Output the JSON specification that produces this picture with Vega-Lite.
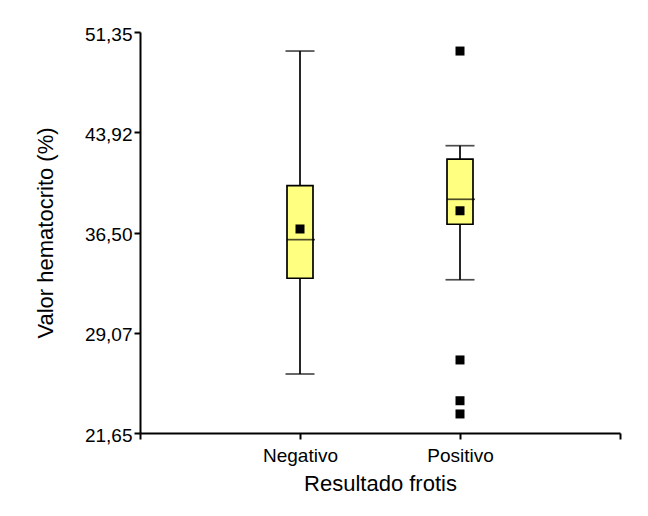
{
  "$schema": "https://vega.github.io/schema/vega-lite/v6.json",
  "width": 480,
  "height": 401,
  "autosize": {"type": "none"},
  "padding": {"left": 140, "top": 32, "right": 28, "bottom": 83},
  "background": "white",
  "datasets": {
    "box": [
      {"grupo": "Negativo", "min": 26.02, "q1": 33.11, "mediana": 35.97, "q3": 39.97, "max": 49.94, "media": 36.76},
      {"grupo": "Positivo", "min": 33.0, "q1": 37.11, "mediana": 38.96, "q3": 41.94, "max": 42.93, "media": 38.11}
    ],
    "atipicos": [
      {"grupo": "Positivo", "valor": 49.94},
      {"grupo": "Positivo", "valor": 27.06},
      {"grupo": "Positivo", "valor": 24.04},
      {"grupo": "Positivo", "valor": 23.06}
    ]
  },
  "encoding": {
    "x": {
      "field": "grupo",
      "type": "nominal",
      "scale": {"type": "point", "domain": ["_a", "Negativo", "Positivo", "_b"], "padding": 0},
      "axis": {
        "title": "Resultado frotis",
        "labelAngle": 0,
        "labelExpr": "indexof(['Negativo','Positivo'], datum.value) >= 0 ? datum.value : ''",
        "labelPadding": 7,
        "titlePadding": 8
      }
    }
  },
  "layer": [
    {
      "data": {"name": "box"},
      "mark": {"type": "rule", "color": "black", "strokeWidth": 1.7},
      "encoding": {
        "y": {
          "field": "min",
          "type": "quantitative",
          "scale": {"domain": [21.65, 51.35], "nice": false, "zero": false},
          "axis": {
            "title": "Valor hematocrito (%)",
            "values": [21.65, 29.07, 36.5, 43.92, 51.35],
            "labelExpr": "replace(format(datum.value, '.2f'), '.', ',')",
            "labelPadding": 2,
            "labelOffset": 2,
            "titlePadding": 27
          }
        },
        "y2": {"field": "max"}
      }
    },
    {
      "data": {"name": "box"},
      "mark": {"type": "tick", "color": "black", "size": 29, "thickness": 1.7},
      "encoding": {"y": {"field": "min", "type": "quantitative"}}
    },
    {
      "data": {"name": "box"},
      "mark": {"type": "tick", "color": "black", "size": 29, "thickness": 1.7},
      "encoding": {"y": {"field": "max", "type": "quantitative"}}
    },
    {
      "data": {"name": "box"},
      "mark": {"type": "bar", "size": 26, "fill": "#FFFF80", "stroke": "black", "strokeWidth": 1.7},
      "encoding": {
        "y": {"field": "q1", "type": "quantitative"},
        "y2": {"field": "q3"}
      }
    },
    {
      "data": {"name": "box"},
      "mark": {"type": "tick", "color": "black", "size": 28, "thickness": 1.7, "xOffset": 1},
      "encoding": {"y": {"field": "mediana", "type": "quantitative"}}
    },
    {
      "data": {"name": "box"},
      "mark": {"type": "square", "color": "black", "filled": true, "size": 81, "opacity": 1},
      "encoding": {"y": {"field": "media", "type": "quantitative"}}
    },
    {
      "data": {"name": "atipicos"},
      "mark": {"type": "square", "color": "black", "filled": true, "size": 81, "opacity": 1},
      "encoding": {"y": {"field": "valor", "type": "quantitative"}}
    }
  ],
  "config": {
    "view": {"stroke": null},
    "font": "Liberation Sans",
    "axis": {
      "grid": false,
      "domainColor": "black",
      "domainWidth": 2,
      "tickColor": "black",
      "tickWidth": 2,
      "tickSize": 6,
      "labelColor": "black",
      "labelFont": "Liberation Sans",
      "labelFontSize": 19,
      "titleColor": "black",
      "titleFont": "Liberation Sans",
      "titleFontSize": 22,
      "titleFontWeight": "normal"
    }
  }
}
